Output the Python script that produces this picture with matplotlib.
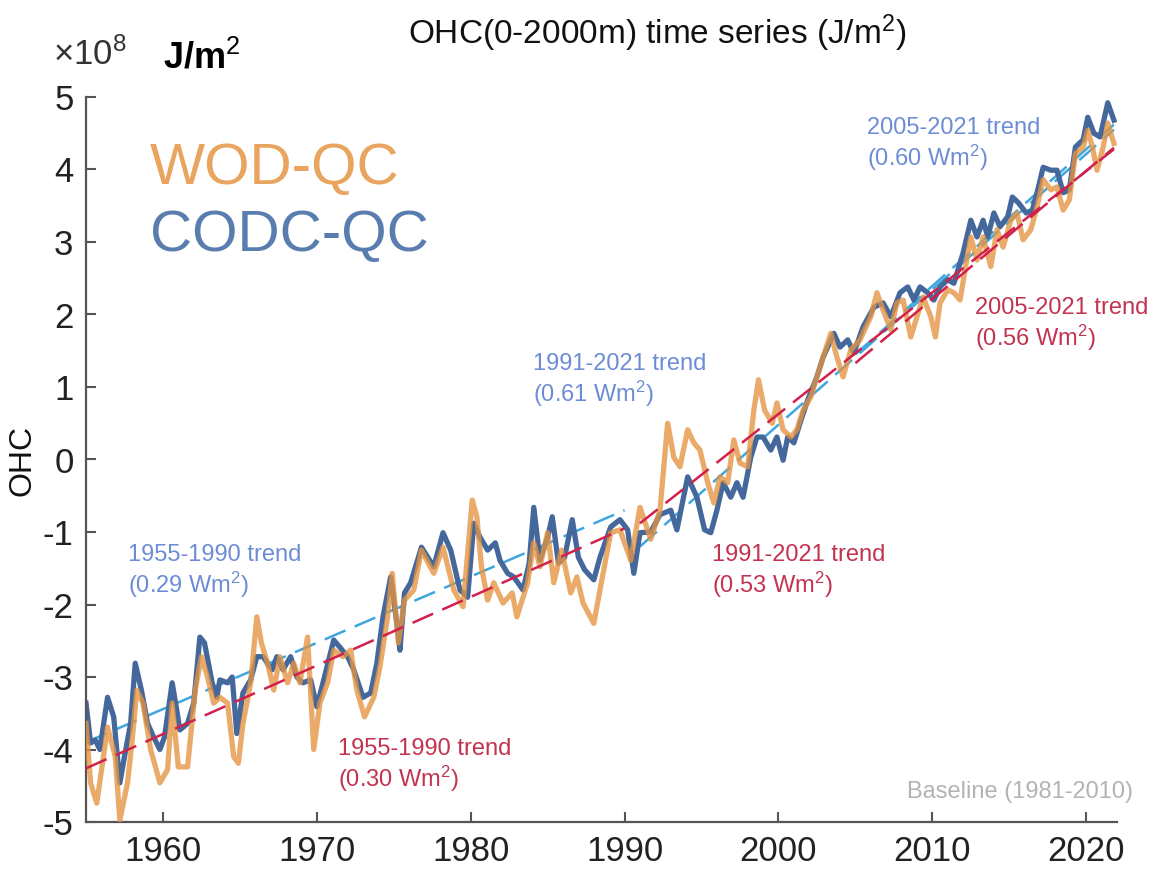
import matplotlib
matplotlib.use("Agg")
import matplotlib.pyplot as plt

plt.rcParams['font.family'] = ['Liberation Sans', 'DejaVu Sans']
plt.rcParams['mathtext.fontset'] = 'custom'
plt.rcParams['mathtext.rm'] = 'Liberation Sans'
plt.rcParams['mathtext.it'] = 'Liberation Sans'

# ---------------- data (x 1e8 J/m^2) ----------------
codc_years = [1955.0, 1955.3, 1955.6, 1955.9, 1956.4, 1956.8, 1957.2, 1957.5, 1957.9, 1958.2,
              1958.6, 1959.0, 1959.4, 1959.8, 1960.1, 1960.6, 1960.9, 1961.1, 1961.6, 1962.0,
              1962.4, 1962.7, 1963.2, 1963.5, 1963.7, 1964.2, 1964.5, 1964.8, 1965.2, 1965.7,
              1966.1, 1966.5, 1967.1, 1967.4, 1967.8, 1968.3, 1968.7, 1969.1, 1969.6, 1970.0,
              1970.4, 1971.1, 1971.5, 1972.0, 1972.4, 1973.0, 1973.5, 1973.9, 1974.3, 1974.8,
              1975.2, 1975.4, 1975.7, 1976.1, 1976.8, 1977.6, 1978.2, 1978.7, 1979.3, 1979.8,
              1980.2, 1980.6, 1981.1, 1981.6, 1981.9, 1982.4, 1982.8, 1983.4, 1983.8, 1984.1,
              1984.5, 1985.0, 1985.3, 1985.7, 1986.1, 1986.6, 1987.0, 1987.4, 1988.0, 1988.4,
              1989.1, 1989.7, 1990.2, 1990.6, 1991.0, 1991.7, 1992.3, 1993.0, 1993.4, 1994.1,
              1994.7, 1995.2, 1995.6, 1996.0, 1996.4, 1996.9, 1997.3, 1997.7, 1998.2, 1998.6,
              1999.0, 1999.5, 1999.9, 2000.3, 2000.6, 2001.0, 2001.4, 2001.9, 2002.5, 2002.9,
              2003.6, 2004.0, 2004.5, 2004.9, 2005.5, 2006.2, 2006.8, 2007.3, 2007.9, 2008.4,
              2008.8, 2009.2, 2009.7, 2010.1, 2010.5, 2011.0, 2011.4, 2012.0, 2012.5, 2012.9,
              2013.3, 2013.6, 2014.0, 2014.4, 2014.9, 2015.2, 2015.6, 2016.1, 2016.5, 2016.9,
              2017.2, 2017.7, 2018.1, 2018.5, 2018.9, 2019.3, 2019.8, 2020.1, 2020.5, 2020.9,
              2021.4, 2021.8]
codc_ohc = [-3.36, -3.91, -3.87, -4.00, -3.28, -3.55, -4.46, -4.10, -3.64, -2.81,
            -3.18, -3.64, -3.83, -4.00, -3.83, -3.08, -3.46, -3.73, -3.64, -3.36,
            -2.45, -2.53, -3.08, -3.28, -3.04, -3.08, -3.00, -3.78, -3.22, -3.04,
            -2.72, -2.72, -2.90, -2.72, -2.90, -2.72, -3.00, -3.08, -3.04, -3.41,
            -3.08, -2.49, -2.59, -2.72, -2.90, -3.28, -3.22, -2.81, -2.17, -1.62,
            -2.26, -2.63, -1.84, -1.70, -1.21, -1.48, -1.01, -1.25, -1.80, -1.90,
            -0.88, -1.07, -1.25, -1.15, -1.39, -1.57, -1.62, -1.80, -1.43, -0.66,
            -1.39, -1.07, -0.79, -1.43, -1.35, -0.83, -1.35, -1.52, -1.66, -1.35,
            -0.93, -0.83, -0.97, -1.57, -1.01, -1.00, -0.76, -0.70, -0.97, -0.24,
            -0.52, -0.97, -1.01, -0.70, -0.32, -0.52, -0.32, -0.52, 0.03, 0.31,
            0.31, 0.13, 0.31, -0.01, 0.31, 0.23, 0.50, 0.82, 1.14, 1.41,
            1.74, 1.55, 1.65, 1.47, 1.83, 2.10, 2.16, 1.97, 2.30, 2.38,
            2.20, 2.38, 2.30, 2.20, 2.38, 2.48, 2.43, 2.85, 3.30, 3.07,
            3.30, 3.07, 3.40, 3.21, 3.35, 3.62, 3.54, 3.40, 3.44, 3.76,
            4.03, 3.99, 3.99, 3.68, 3.72, 4.31, 4.41, 4.72, 4.50, 4.45,
            4.92, 4.68]

wod_years = [1955.0, 1955.3, 1955.7, 1956.2, 1956.4, 1956.9, 1957.2, 1957.7, 1958.0, 1958.3,
             1958.7, 1959.2, 1959.8, 1960.3, 1960.6, 1961.0, 1961.6, 1962.1, 1962.5, 1962.9,
             1963.3, 1963.7, 1964.2, 1964.6, 1964.9, 1965.2, 1965.7, 1966.1, 1966.4, 1966.8,
             1967.2, 1967.6, 1968.1, 1968.5, 1968.9, 1969.4, 1969.8, 1970.2, 1970.7, 1971.1,
             1971.7, 1972.2, 1972.6, 1973.1, 1973.7, 1974.1, 1974.6, 1974.9, 1975.3, 1975.7,
             1976.3, 1976.8, 1977.6, 1978.2, 1978.9, 1979.5, 1980.1, 1980.4, 1980.7, 1981.1,
             1981.5, 1982.1, 1982.7, 1983.0, 1983.7, 1984.1, 1984.5, 1985.0, 1985.4, 1985.9,
             1986.5, 1986.9, 1987.3, 1988.0, 1988.4, 1989.1, 1989.7, 1990.4, 1991.0, 1991.7,
             1992.3, 1992.8, 1993.2, 1993.6, 1994.1, 1994.5, 1994.9, 1995.4, 1995.8, 1996.2,
             1996.7, 1997.1, 1997.5, 1998.0, 1998.4, 1998.7, 1999.1, 1999.6, 1999.9, 2000.3,
             2000.8, 2001.2, 2001.6, 2002.1, 2002.5, 2002.9, 2003.4, 2003.8, 2004.2, 2004.7,
             2005.3, 2006.0, 2006.4, 2006.8, 2007.3, 2007.7, 2008.1, 2008.6, 2009.0, 2009.4,
             2009.9, 2010.2, 2010.5, 2011.0, 2011.4, 2011.8, 2012.2, 2012.5, 2012.9, 2013.3,
             2013.8, 2014.2, 2014.6, 2015.1, 2015.5, 2015.9, 2016.4, 2016.8, 2017.2, 2017.7,
             2018.1, 2018.5, 2018.9, 2019.3, 2019.8, 2020.1, 2020.4, 2020.7, 2021.1, 2021.4,
             2021.8]
wod_ohc = [-3.64, -4.46, -4.74, -4.00, -3.69, -4.10, -4.97, -4.46, -3.87, -3.18,
           -3.36, -4.00, -4.46, -4.28, -3.36, -4.24, -4.24, -3.18, -2.72, -3.00,
           -3.36, -3.28, -3.36, -4.10, -4.19, -3.64, -3.08, -2.17, -2.53, -2.81,
           -3.18, -2.72, -3.08, -2.81, -3.08, -2.45, -4.00, -3.36, -3.08, -2.63,
           -2.72, -2.63, -3.18, -3.55, -3.28, -2.86, -2.17, -1.57, -2.53, -1.94,
           -1.80, -1.25, -1.57, -1.21, -1.80, -2.03, -0.56, -0.79, -1.48, -1.94,
           -1.70, -1.98, -1.84, -2.17, -1.70, -1.15, -1.48, -1.01, -1.70, -1.25,
           -1.84, -1.62, -1.98, -2.26, -1.80, -1.01, -0.97, -1.39, -0.66, -1.10,
           -0.70, 0.50, 0.03, -0.10, 0.41, 0.23, 0.13, -0.32, -0.60, -0.24,
           -0.32, 0.27, -0.05, -0.10, 0.68, 1.10, 0.68, 0.50, 0.78, 0.41,
           0.31, 0.41, 0.68, 0.86, 1.14, 1.41, 1.74, 1.41, 1.14, 1.51,
           1.65, 1.97, 2.30, 2.06, 1.79, 2.16, 2.20, 1.69, 1.97, 2.24,
           1.97, 1.69, 2.16, 2.34, 2.30, 2.20, 2.71, 3.07, 2.75, 3.07,
           2.66, 3.17, 2.93, 3.30, 3.40, 3.03, 3.17, 3.48, 3.86, 3.72,
           3.76, 3.44, 3.58, 4.22, 4.31, 4.54, 4.31, 3.99, 4.31, 4.64,
           4.36]

# trend lines: (start year, end year, start value, end value)
codc_trend_x0 = [1955.0, 1991.0, 2005.0]
codc_trend_x1 = [1990.0, 2021.8, 2021.8]
codc_trend_y0 = [-3.90, -1.20, 1.45]
codc_trend_y1 = [-0.70, 4.55, 4.62]
wod_trend_x0 = [1955.0, 1991.0, 2005.0]
wod_trend_x1 = [1990.0, 2021.8, 2021.8]
wod_trend_y0 = [-4.26, -0.88, 1.33]
wod_trend_y1 = [-0.95, 4.28, 4.30]

codc_trend_labels = ["1955-1990 trend\n(0.29 Wm$^2$)", "1991-2021 trend\n(0.61 Wm$^2$)",
                     "2005-2021 trend\n(0.60 Wm$^2$)"]
wod_trend_labels = ["1955-1990 trend\n(0.30 Wm$^2$)", "1991-2021 trend\n(0.53 Wm$^2$)",
                    "2005-2021 trend\n(0.56 Wm$^2$)"]

yticks = [-5, -4, -3, -2, -1, 0, 1, 2, 3, 4, 5]
xticks = [1960, 1970, 1980, 1990, 2000, 2010, 2020]

# ---------------- style ----------------
W, H = 1155, 871
ORANGE = '#E5933F'
BLUE = '#44689C'
CYAN = '#3FA6DE'
RED = '#D2204C'
BLUE_TXT = '#6C8DD5'
RED_TXT = '#C23350'

fig = plt.figure(figsize=(W / 100, H / 100), dpi=100)
ax = fig.add_axes([86 / W, (H - 822) / H, (1117 - 86) / W, (822 - 97) / H])

ax.plot(codc_years, codc_ohc, color=BLUE, lw=3.8, solid_joinstyle='round', zorder=2)
ax.plot(wod_years, wod_ohc, color=ORANGE, lw=3.8, alpha=0.78, solid_joinstyle='round', zorder=3)

for x0, x1, y0, y1 in zip(codc_trend_x0, codc_trend_x1, codc_trend_y0, codc_trend_y1):
    ax.plot([x0, x1], [y0, y1], color=CYAN, lw=1.8, dashes=(9, 4), zorder=1.5)
for x0, x1, y0, y1 in zip(wod_trend_x0, wod_trend_x1, wod_trend_y0, wod_trend_y1):
    ax.plot([x0, x1], [y0, y1], color=RED, lw=1.8, dashes=(9, 4), zorder=5)

ax.set_xlim(1955, 2022)
ax.set_ylim(-5, 5)
ax.set_xticks(xticks)
ax.set_yticks(yticks)
ax.set_xticklabels([str(t) for t in xticks])
ax.set_yticklabels([str(t) for t in yticks])
ax.tick_params(direction='in', length=7, width=1.5, color='#555555',
               labelsize=25, labelcolor='#222222', pad=9)
for s in ['top', 'right']:
    ax.spines[s].set_visible(False)
for s in ['left', 'bottom']:
    ax.spines[s].set_color('#555555')
    ax.spines[s].set_linewidth(1.6)

# title and unit labels
fig.text(657 / W, 1 - 33 / H, "OHC(0-2000m) time series (J/m$^2$)", ha='center', va='center',
         fontsize=24, color='#111111')
fig.text(53 / W, 1 - 55 / H, r"$\times10^{8}$", ha='left', va='center', fontsize=25, color='#333333')
fig.text(163 / W, 1 - 58 / H, "J/m$^2$", ha='left', va='center', fontsize=26, color='#000000',
         fontweight='bold')
fig.text(22 / W, 1 - 460 / H, "OHC", ha='center', va='center', rotation=90, fontsize=23,
         color='#111111')

# legend-like labels
fig.text(150 / W, 1 - 169 / H, "WOD-QC", ha='left', va='center', fontsize=42, color='#E9A45F')
fig.text(150 / W, 1 - 236 / H, "CODC-QC", ha='left', va='center', fontsize=42, color='#5A7DAF')

# trend labels (left x, center y of the two lines)
codc_lab_pos = [(128, 572), (533, 381), (867, 145)]
wod_lab_pos = [(338, 766), (712, 572), (975, 325)]
for (x, y), t in zip(codc_lab_pos, codc_trend_labels):
    fig.text(x / W, 1 - y / H, t, ha='left', va='center', fontsize=17, color=BLUE_TXT,
             linespacing=1.15)
for (x, y), t in zip(wod_lab_pos, wod_trend_labels):
    fig.text(x / W, 1 - y / H, t, ha='left', va='center', fontsize=17, color=RED_TXT,
             linespacing=1.15)

fig.text(1133 / W, 1 - 792 / H, "Baseline (1981-2010)", ha='right', va='center', fontsize=17,
         color='#B3B3B3')

fig.savefig("out.png", dpi=100)
